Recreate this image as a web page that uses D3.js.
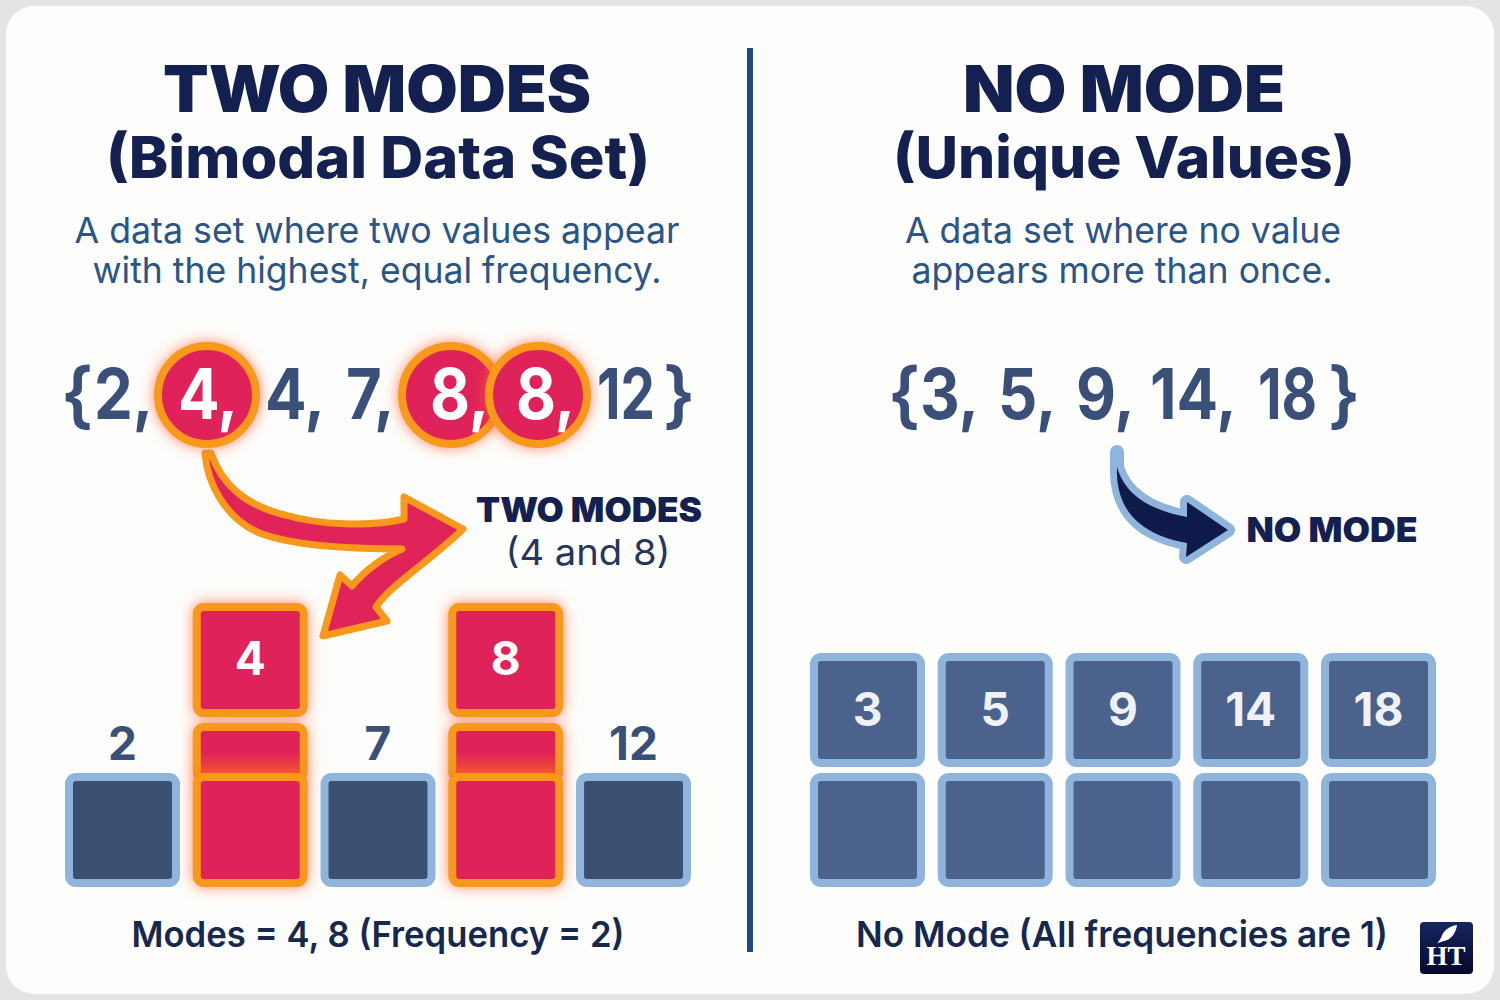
<!DOCTYPE html>
<html>
<head>
<meta charset="utf-8">
<script src="https://cdn.jsdelivr.net/npm/d3@7"></script>
<style>
  html, body { margin: 0; padding: 0; background: #e4e4e2; }
  svg { display: block; }
  text { font-family: Inter, "Noto Sans", sans-serif; }
</style>
</head>
<body>
<svg id="chart" width="1500" height="1000"></svg>
<script>
// data
var leftValues = [2, 4, 7, 8, 12];
var leftFrequency = [1, 2, 1, 2, 1];
var rightValues = [3, 5, 9, 14, 18];
var rightFrequency = [1, 1, 1, 1, 1];
var leftSet = ['2,', '4,', '4,', '7,', '8,', '8,', '12'];
var leftSetModes = [false, true, false, false, true, true, false];
var rightSet = ['3,', '5,', '9,', '14,', '18'];

var navy = '#14204f', blue = '#2b5585', slate = '#3a5078', red = '#e0245a',
    orange = '#f8991c', pale = '#8fb5dc', darkBox = '#3b5070', rightBox = '#4a628c';

var svg = d3.select('#chart');
var defs = svg.append('defs');

var glow = defs.append('filter').attr('id', 'glow')
  .attr('x', '-40%').attr('y', '-40%').attr('width', '180%').attr('height', '180%');
glow.append('feDropShadow').attr('dx', 0).attr('dy', 0).attr('stdDeviation', 7)
  .attr('flood-color', '#ff6030').attr('flood-opacity', 0.75);

var blend = defs.append('linearGradient').attr('id', 'blend').attr('x1', 0).attr('x2', 0).attr('y1', 0).attr('y2', 1);
blend.append('stop').attr('offset', '50%').attr('stop-color', red);
blend.append('stop').attr('offset', '90%').attr('stop-color', '#f0502e');

var logoFill = defs.append('linearGradient').attr('id', 'logoFill').attr('x1', 0).attr('x2', 0).attr('y1', 0).attr('y2', 1);
logoFill.append('stop').attr('offset', '0%').attr('stop-color', '#16265f');
logoFill.append('stop').attr('offset', '100%').attr('stop-color', '#04082c');

// card
svg.append('rect').attr('width', 1500).attr('height', 1000).attr('fill', '#e4e4e2');
svg.append('rect').attr('x', 6).attr('y', 6).attr('width', 1488).attr('height', 988).attr('rx', 28).attr('fill', '#fdfdfb');
svg.append('line').attr('x1', 750).attr('x2', 750).attr('y1', 48).attr('y2', 952)
  .attr('stroke', '#1f4a80').attr('stroke-width', 6);

function label(str, x, y, size, weight, color, width) {
  var t = svg.append('text').attr('x', x).attr('y', y).attr('text-anchor', 'middle')
    .attr('font-size', size).attr('font-weight', weight).attr('fill', color).text(str);
  if (width) t.attr('textLength', width).attr('lengthAdjust', 'spacingAndGlyphs');
  return t;
}

// headings
label('TWO MODES', 377, 112, 64, 900, navy, 428);
label('(Bimodal Data Set)', 378, 178, 58, 800, navy, 544);
label('A data set where two values appear', 377, 243, 36, 400, blue, 605);
label('with the highest, equal frequency.', 377, 283, 36, 400, blue, 569);
label('NO MODE', 1124, 112, 64, 900, navy, 322);
label('(Unique Values)', 1124, 178, 58, 800, navy, 462);
label('A data set where no value', 1123, 243, 36, 400, blue, 436);
label('appears more than once.', 1122, 283, 36, 400, blue, 421);

// arrows, under the circles
svg.append('path')
  .attr('d', 'M205,453 C207,482 225,520 262,534 C290,544 340,549 402,549 C385,556 365,570 352,586 L340,575 L323,636 L387,621 L376,607 C390,585 434,558 463,529 L404,497 L404,519 C370,527 320,525 285,515 C245,505 222,485 211,453 Z')
  .attr('fill', red)
  .attr('stroke', orange)
  .attr('stroke-width', 7)
  .attr('stroke-linejoin', 'round');

var noModeArrow = 'M1117,467 C1116,495 1125,532 1187,543 L1186,557 L1228,530 L1187,502 L1187,517 C1150,510 1125,495 1117,467 Z';
svg.append('path')
  .attr('d', 'M1117,452 L1117,470')
  .attr('stroke', pale).attr('stroke-width', 14).attr('stroke-linecap', 'round');
svg.append('path')
  .attr('d', noModeArrow)
  .attr('fill', '#0e1a4a')
  .attr('stroke', pale)
  .attr('stroke-width', 14)
  .attr('stroke-linejoin', 'round')
  .style('paint-order', 'stroke');

// data sets written out
var setSize = 70, setBase = 419;
var leftSetX = d3.scaleOrdinal().domain(d3.range(leftSet.length))
  .range([94, 178, 265, 346, 430, 516, 597]);
var rightSetX = d3.scaleOrdinal().domain(d3.range(rightSet.length))
  .range([920, 998, 1076, 1150, 1258]);
var circleOffset = [0, 29, 0, 0, 21, 22, 0];

svg.append('g').selectAll('circle')
  .data(leftSet.map(function(d, i) { return i; }).filter(function(i) { return leftSetModes[i]; }))
  .enter().append('circle')
  .attr('cx', function(i) { return leftSetX(i) + circleOffset[i]; })
  .attr('cy', 395)
  .attr('r', 49)
  .attr('fill', red)
  .attr('stroke', orange)
  .attr('stroke-width', 8)
  .attr('filter', 'url(#glow)');

function setText(items, scale, modes) {
  svg.append('g').selectAll('text').data(items).enter().append('text')
    .attr('x', function(d, i) { return scale(i); })
    .attr('y', setBase)
    .attr('font-size', setSize)
    .attr('font-weight', 700)
    .attr('fill', function(d, i) { return modes && modes[i] ? '#ffffff' : slate; })
    .text(function(d) { return d; })
    .each(function(d) {
      // the reference digits are narrower than Inter's
      var squeeze = d.indexOf(',') < 0 ? 0.78 : 0.88;
      d3.select(this)
        .attr('textLength', this.getComputedTextLength() * squeeze)
        .attr('lengthAdjust', 'spacingAndGlyphs');
    });
}
setText(leftSet, leftSetX, leftSetModes);
setText(rightSet, rightSetX, null);
[[77, '{'], [679, '}'], [904, '{'], [1344, '}']].forEach(function(b) {
  label(b[1], b[0], 420, 72, 600, slate);
});

label('TWO MODES', 589, 522, 34, 900, navy, 226);
label('(4 and 8)', 588, 565, 36, 400, '#27345e', 165);
label('NO MODE', 1332, 542, 34, 900, navy, 171);

// stacks of boxes
var leftX = d3.scaleBand().domain(leftValues).range([65, 691]).paddingInner(0.1);
var rightX = d3.scaleBand().domain(rightValues).range([810, 1436]).paddingInner(0.1);
var boxH = 114, line = 8;

function box(g, x, w, y, h, fill, stroke, fx) {
  var r = g.append('rect')
    .attr('x', x + line / 2).attr('y', y + line / 2)
    .attr('width', w - line).attr('height', h - line)
    .attr('rx', 7)
    .attr('fill', fill).attr('stroke', stroke).attr('stroke-width', line);
  if (fx) r.attr('filter', 'url(#glow)');
  return r;
}

var leftG = svg.append('g');
leftValues.forEach(function(v, i) {
  var x = leftX(v), w = leftX.bandwidth(), cx = x + w / 2;
  if (leftFrequency[i] === 2) {
    box(leftG, x, w, 603, boxH, red, orange, true);
    box(leftG, x, w, 723, 60, 'url(#blend)', orange, true);
    box(leftG, x, w, 773, boxH, red, orange, true);
    label(String(v), cx, 675, 46, 700, '#ffffff');
  } else {
    box(leftG, x, w, 773, boxH, darkBox, pale, false);
    label(String(v), cx, 760, 46, 700, slate);
  }
});

var rightG = svg.append('g');
rightValues.forEach(function(v, i) {
  var x = rightX(v), w = rightX.bandwidth(), cx = x + w / 2;
  box(rightG, x, w, 773, boxH, rightBox, pale, false);
  box(rightG, x, w, 653, boxH, rightBox, pale, false);
  label(String(v), cx, 726, 46, 700, '#eef1f6');
});

// captions
label('Modes = 4, 8 (Frequency = 2)', 378, 947, 36, 600, '#17284f', 493);
label('No Mode (All frequencies are 1)', 1122, 947, 36, 600, '#17284f', 532);

// logo
var logo = svg.append('g');
logo.append('rect').attr('x', 1420).attr('y', 922).attr('width', 53).attr('height', 52).attr('rx', 4).attr('fill', 'url(#logoFill)');
logo.append('path')
  .attr('d', 'M1441,938 C1443,931 1449,926 1457,925 C1456,933 1451,940 1444,941 L1438,943 L1437,944 Z')
  .attr('fill', '#ffffff');
logo.append('text').attr('x', 1446).attr('y', 965).attr('text-anchor', 'middle')
  .attr('font-size', 27).attr('font-weight', 700).attr('fill', '#ffffff')
  .style('font-family', '"Liberation Serif", serif').text('HT');
</script>
</body>
</html>
